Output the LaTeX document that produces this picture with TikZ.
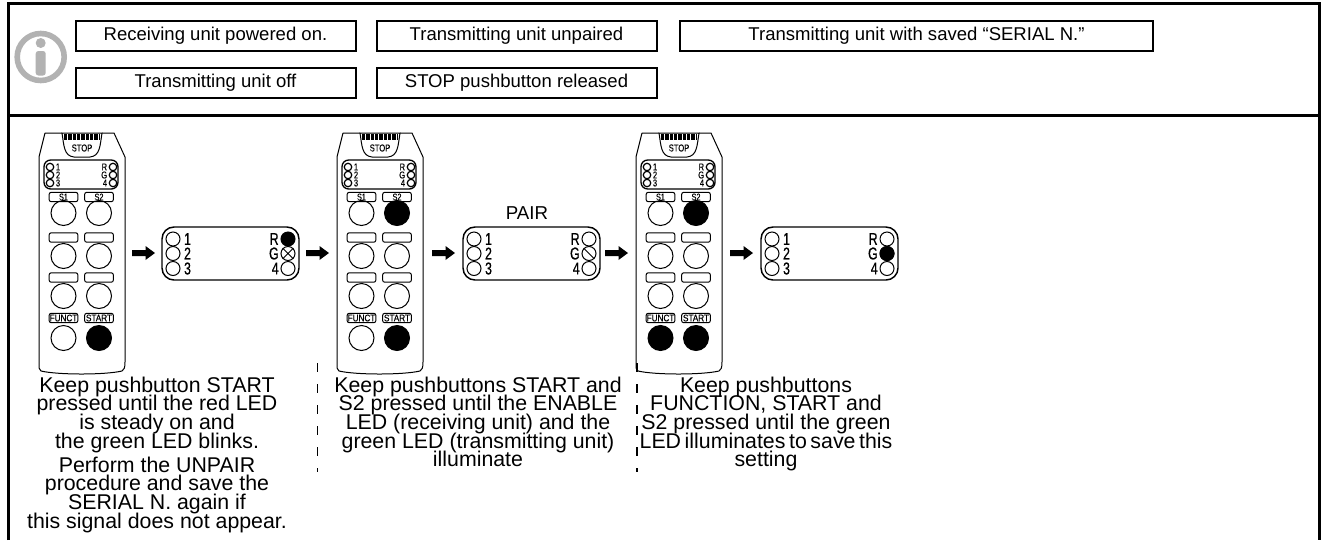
\documentclass[tikz,border=0pt]{standalone}
\usepackage{fontspec}
\usetikzlibrary{positioning}
\setmainfont{Liberation Sans}
\newfontfamily\condf[FakeStretch=0.76,FakeBold=0.3]{Liberation Sans}
\newfontfamily\condw[FakeStretch=0.85,FakeBold=0.5]{Liberation Sans}
\newfontfamily\condb[FakeStretch=0.72,FakeBold=0.6]{Liberation Sans}
\newcommand{\tightlines}{\setlength{\lineskiplimit}{-30pt}\setlength{\lineskip}{0pt}}
\tikzset{
  x=0.75pt,y=-0.75pt,
  frameline/.style={line width=2.25pt,black},
  legendbox/.style={draw=black,line width=1.5pt,minimum height=23pt,inner sep=0pt,text height=10pt,text depth=3pt,font=\fontsize{13.9}{16}\selectfont},
  caption/.style={align=center,inner sep=0pt,anchor=north,font=\fontsize{16}{14}\selectfont},
  bodyline/.style={line width=0.75pt,black},
  keylabel/.style={draw=black,line width=0.75pt,rounded corners=1.5pt,minimum width=21.5pt,minimum height=7pt,inner sep=0pt,font=\condf\fontsize{7.2}{7}\selectfont},
  pushkey/.style={circle,draw=black,line width=0.75pt,minimum size=18.75pt,inner sep=0pt},
  pushed/.style={pushkey,fill=black},
  led/.style={circle,draw=black,line width=0.9pt,minimum size=5.6pt,inner sep=0pt},
  bigled/.style={circle,draw=black,line width=0.75pt,minimum size=10.5pt,inner sep=0pt},
  ledtext/.style={inner sep=0pt,font=\condf\fontsize{7.4}{8}\selectfont},
  bigtext/.style={inner sep=0pt,font=\condb\fontsize{12.8}{14}\selectfont},
  flowarrow/.style={fill=black,draw=none},
  divider/.style={line width=1.4pt,black,dash pattern=on 6.75pt off 9pt},
}
% #1 x offset, #2 prefix, #3 style S2, #4 style FUNCT, #5 style START
\newcommand{\remoteunit}[5]{%
\begin{scope}[shift={(#1,0)}]
  \draw[bodyline] (45,133) -- (62,133) (102,133) -- (114,133) -- (125,157) -- (125,362)
     .. controls (125,368) and (124,370) .. (122,371)
     .. controls (105,375) and (58,375) .. (41,371)
     .. controls (39,370) and (39,368) .. (39,362) -- (39,157) -- (45,133);
  \draw[bodyline] (62,133) .. controls (64,146) and (64,156) .. (74,157) -- (90,157) .. controls (100,156) and (100,146) .. (102,133) -- cycle;
  \foreach \k in {64,65.3,...,100}{\draw[line width=0.5pt] (\k,134) -- (\k,139.5);}
  \node[inner sep=0pt,font=\condf\fontsize{7.5}{8}\selectfont] (#2stop) at (82,148) {STOP};
  \draw[line width=1pt,rounded corners=5pt] (44,160) rectangle (118,189);
  \foreach \n/\yy/\t in {a/167/1,b/175/2,c/183/3}{
    \node[led] (#2l\n) at (50,\yy) {};
    \node[ledtext,right=1pt of #2l\n] {\t};
  }
  \foreach \n/\yy/\t in {a/167/R,b/175/G,c/183/4}{
    \node[led] (#2r\n) at (113,\yy) {};
    \node[ledtext,left=1pt of #2r\n] {\t};
  }
  \foreach \n/\yy/\cx/\ltxt in {s1/197/63.5/S1,s2/197/99/S2,b1/237.5/63.5/,b2/237.5/99/,c1/277.5/63.5/,c2/277.5/99/,f/318/63.5/{\condw FUNCT},g/318/99/{\condw START}}{
    \node[keylabel] (#2k\n) at (\cx,\yy) {\ltxt};
  }
  \foreach \n/\yy/\cx/\st in {s1/213/63.5/pushkey,s2/213/99/#3,b1/256/63.5/pushkey,b2/256/99/pushkey,c1/296/63.5/pushkey,c2/296/99/pushkey,f/338/63.5/#4,g/338/99/#5}{
    \node[\st] (#2p\n) at (\cx,\yy) {};
  }
\end{scope}}
% #1 x, #2 prefix, #3 R fill, #4 G mark: 0 none,1 cross,2 slash,3 filled
\newcommand{\bigdisplay}[4]{%
\begin{scope}[shift={(#1,0)}]
  \draw[line width=1.1pt,rounded corners=9pt] (0,227) rectangle (137,280);
  \foreach \n/\yy/\t in {a/239/1,b/253.5/2,c/268.5/3}{
    \node[bigled] (#2l\n) at (11,\yy) {};
    \node[bigtext,right=2.5pt of #2l\n] {\t};
  }
  \node[bigled,fill=#3] (#2ra) at (126,239) {};
  \node[bigled] (#2rb) at (126,253.5) {};
  \node[bigled] (#2rc) at (126,268.5) {};
  \node[bigtext,left=1.2pt of #2ra] {R};
  \node[bigtext,left=1.2pt of #2rb] {G};
  \node[bigtext,left=1.2pt of #2rc] {4};
  \ifcase#4\or
    \draw[line width=0.7pt] (#2rb.north west) -- (#2rb.south east) (#2rb.north east) -- (#2rb.south west);
  \or
    \draw[line width=0.7pt] (#2rb.north west) -- (#2rb.south east);
  \or
    \node[bigled,fill=black] at (#2rb) {};
  \fi
\end{scope}}
\newcommand{\flow}[1]{\fill[flowarrow,shift={(#1,0)}] (0,250) -- (13.5,250) -- (13.5,246) -- (23,253) -- (13.5,260) -- (13.5,256) -- (0,256) -- cycle;}
\begin{document}
\begin{tikzpicture}
\tightlines
\useasboundingbox (0,0) rectangle (1324,540);
\fill[white] (0,0) rectangle (1324,540);
% frame
\draw[frameline] (8.5,540) -- (8.5,3.5) -- (1319.5,3.5) -- (1319.5,540);
\draw[frameline] (8.5,115) -- (1319.5,115);
% info icon
\draw[line width=4.2pt,color=black!30] (40.7,57) circle (23.5);
\fill[color=black!30] (40.7,43) circle (5);
\fill[color=black!30,rounded corners=2pt] (35.7,51) rectangle (45.7,75.5);
% legend
\node[legendbox,minimum width=210pt] (lg1) at (215.5,36) {Receiving unit powered on.};
\node[legendbox,minimum width=210pt] (lg2) at (516.5,36) {Transmitting unit unpaired};
\node[legendbox,minimum width=355pt] (lg3) at (916.5,36) {Transmitting unit with saved “SERIAL N.”};
\node[legendbox,minimum width=210pt] (lg4) at (215.5,83) {Transmitting unit off};
\node[legendbox,minimum width=210pt] (lg5) at (516.5,83) {STOP pushbutton released};
% remotes
\remoteunit{0}{ra}{pushkey}{pushkey}{pushed}
\remoteunit{298}{rb}{pushed}{pushkey}{pushed}
\remoteunit{597}{rc}{pushed}{pushed}{pushed}
% displays
\bigdisplay{162}{da}{black}{1}
\bigdisplay{463}{db}{white}{2}
\bigdisplay{761}{dc}{white}{3}
\node[inner sep=0pt,anchor=base,font=\fontsize{14}{16}\selectfont] (pair) at (527,219) {PAIR};
% arrows
\flow{132}\flow{306}\flow{432}\flow{605}\flow{730}
% dividers
\coordinate (d1a) at (317.5,363); \coordinate (d1b) at (317.5,472);
\coordinate (d2a) at (637,363); \coordinate (d2b) at (637,472);
\draw[divider] (d1a) -- (d1b);
\draw[divider] (d2a) -- (d2b);
% captions
\node[caption] (c1) at (157,376.5) {Keep pushbutton START\\pressed until the red LED\\is steady on and\\the green LED blinks.};
\node[caption] (c1b) at (157,456.5) {Perform the UNPAIR\\procedure and save the\\SERIAL N. again if\\this signal does not appear.};
\node[caption] (c2) at (478,376.5) {Keep pushbuttons START and\\S2 pressed until the ENABLE\\LED (receiving unit) and the\\green LED (transmitting unit)\\illuminate};
\node[caption] (c3) at (766,376.5) {Keep pushbuttons\\FUNCTION, START and\\S2 pressed until the green\\LED\hspace{2.7pt}illuminates\hspace{2.7pt}to\hspace{2.7pt}save\hspace{2.7pt}this\\setting};
\end{tikzpicture}
\end{document}
